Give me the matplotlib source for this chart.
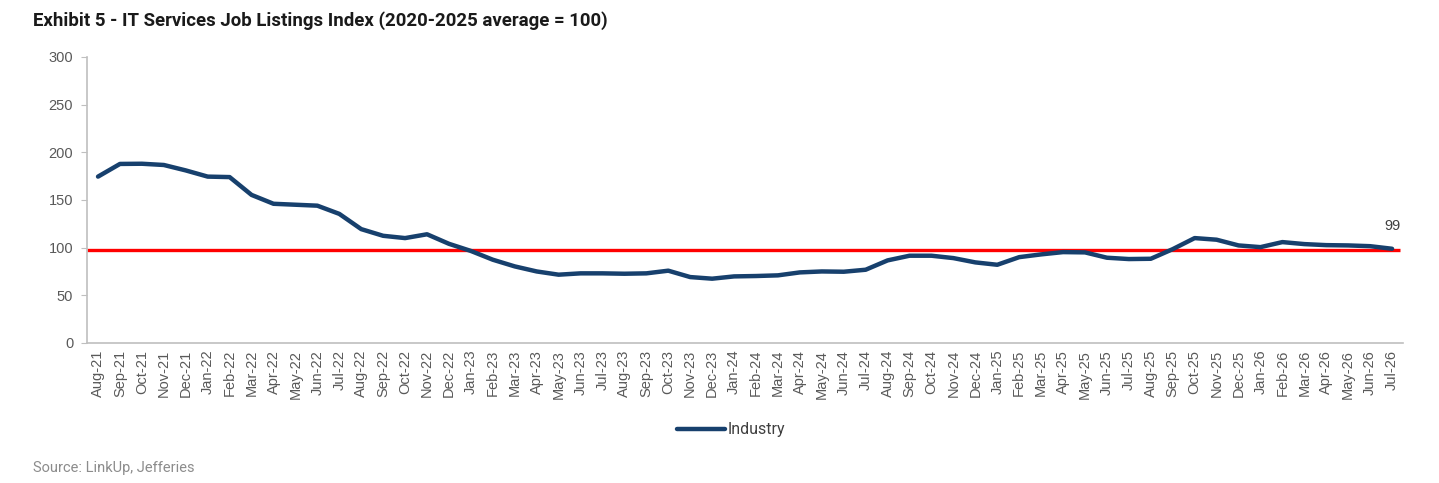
import matplotlib
matplotlib.use("Agg")
import matplotlib.pyplot as plt

months = [
    "Aug-21", "Sep-21", "Oct-21", "Nov-21", "Dec-21", "Jan-22", "Feb-22", "Mar-22", "Apr-22", "May-22",
    "Jun-22", "Jul-22", "Aug-22", "Sep-22", "Oct-22", "Nov-22", "Dec-22", "Jan-23", "Feb-23", "Mar-23",
    "Apr-23", "May-23", "Jun-23", "Jul-23", "Aug-23", "Sep-23", "Oct-23", "Nov-23", "Dec-23", "Jan-24",
    "Feb-24", "Mar-24", "Apr-24", "May-24", "Jun-24", "Jul-24", "Aug-24", "Sep-24", "Oct-24", "Nov-24",
    "Dec-24", "Jan-25", "Feb-25", "Mar-25", "Apr-25", "May-25", "Jun-25", "Jul-25", "Aug-25", "Sep-25",
    "Oct-25", "Nov-25", "Dec-25", "Jan-26", "Feb-26", "Mar-26", "Apr-26", "May-26", "Jun-26", "Jul-26",
]
industry = [
    174.5, 187.8, 188.0, 186.7, 181.0, 174.5, 174.0, 155.3, 146.0, 145.0,
    144.0, 135.4, 119.4, 112.4, 110.0, 114.0, 104.0, 96.5, 87.3, 80.3,
    75.0, 71.6, 73.0, 73.0, 72.6, 73.0, 75.8, 69.1, 67.4, 69.8,
    70.2, 70.9, 74.0, 75.0, 74.7, 76.8, 86.6, 91.5, 91.5, 89.0,
    84.5, 82.0, 90.0, 92.9, 95.3, 95.0, 89.4, 88.0, 88.3, 98.4,
    110.0, 108.3, 102.3, 100.5, 105.8, 103.7, 102.6, 102.3, 101.5, 98.8,
]
average = 98

navy = "#17406d"
grey_txt = "#595959"
spine_c = "#bfbfbf"

fig = plt.figure(figsize=(14.39, 4.83), dpi=100)
ax = fig.add_axes([0.0605, 0.29, 0.9145, 0.592])

x = list(range(len(months)))
ax.hlines(average, -0.5, len(months) - 0.65, color="#ff0000", linewidth=2.4, zorder=2)
ax.plot(x, industry, color=navy, linewidth=3.2, solid_capstyle="round", zorder=3, label="Industry")
ax.annotate(f"{industry[-1]:.0f}", xy=(x[-1], industry[-1]), xytext=(0, 11),
            textcoords="offset points", ha="center", va="bottom",
            fontsize=10.5, color="#404040", family="Liberation Sans")

ax.set_xlim(-0.5, len(months) - 0.5)
ax.set_ylim(0, 300)
ax.set_yticks(range(0, 301, 50))
ax.set_xticks(x)
ax.set_xticklabels(months, rotation=90)

for lab in ax.get_xticklabels() + ax.get_yticklabels():
    lab.set_fontfamily("Liberation Sans")
    lab.set_fontsize(10.5)
    lab.set_color(grey_txt)

ax.tick_params(axis="x", length=0, pad=5)
ax.tick_params(axis="y", length=4, color=spine_c, pad=6)
for s in ("top", "right"):
    ax.spines[s].set_visible(False)
for s in ("left", "bottom"):
    ax.spines[s].set_color(spine_c)
    ax.spines[s].set_linewidth(1.2)

leg = fig.legend(loc="center", bbox_to_anchor=(0.508, 0.11), frameon=False,
                 handlelength=3, handletextpad=0.2,
                 prop={"family": "Roboto", "size": 11.5})
for t in leg.get_texts():
    t.set_color("#404040")

fig.text(0.023, 0.958, "Exhibit 5 - IT Services Job Listings Index (2020-2025 average = 100)",
         fontsize=13.4, fontweight="bold", family="Roboto", color="#1a1a1a", va="center")
fig.text(0.023, 0.031, "Source: LinkUp, Jefferies", fontsize=10.5, family="Roboto",
         color="#8c8c8c", va="center")

fig.savefig("out.png", dpi=100)
